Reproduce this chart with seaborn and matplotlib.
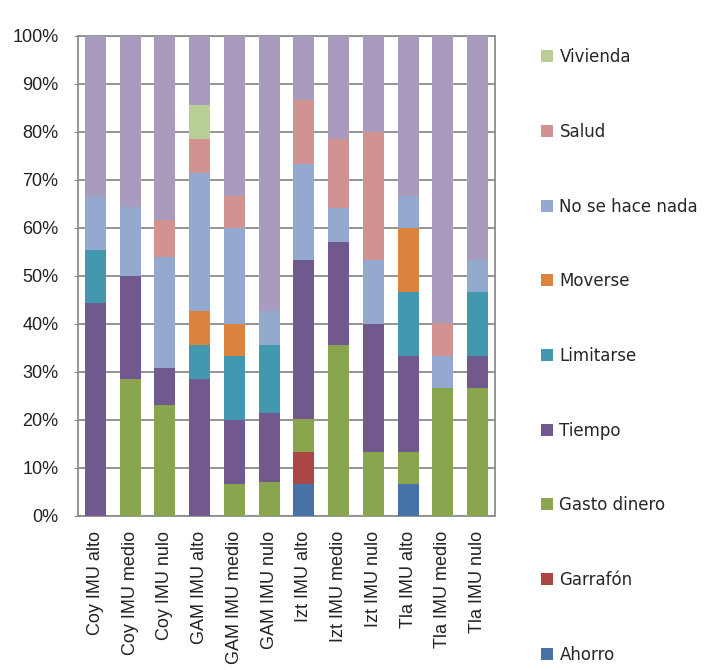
import matplotlib
matplotlib.use("Agg")
import matplotlib.pyplot as plt
from matplotlib.patches import Patch
import seaborn as sns
import pandas as pd
import numpy as np

categories = ["Coy IMU alto", "Coy IMU medio", "Coy IMU nulo",
              "GAM IMU alto", "GAM IMU medio", "GAM IMU nulo",
              "Izt IMU alto", "Izt IMU medio", "Izt IMU nulo",
              "Tla IMU alto", "Tla IMU medio", "Tla IMU nulo"]

# percentages per series (bottom to top)
ahorro       = [0, 0, 0, 0, 0, 0, 6.7, 0, 0, 6.7, 0, 0]
garrafon     = [0, 0, 0, 0, 0, 0, 6.7, 0, 0, 0, 0, 0]
gasto_dinero = [0, 28.6, 23.1, 0, 6.7, 7.1, 6.7, 35.7, 13.3, 6.7, 26.7, 26.7]
tiempo       = [44.4, 21.4, 7.7, 28.6, 13.3, 14.3, 33.3, 21.4, 26.7, 20.0, 0, 6.7]
limitarse    = [11.1, 0, 0, 7.1, 13.3, 14.3, 0, 0, 0, 13.3, 0, 13.3]
moverse      = [0, 0, 0, 7.1, 6.7, 0, 0, 0, 0, 13.3, 0, 0]
no_hace_nada = [11.1, 14.3, 23.1, 28.6, 20.0, 7.1, 20.0, 7.1, 13.3, 6.7, 6.7, 6.7]
salud        = [0, 0, 7.7, 7.1, 6.7, 0, 13.3, 14.3, 26.7, 0, 6.7, 0]
vivienda     = [0, 0, 0, 7.1, 0, 0, 0, 0, 0, 0, 0, 0]
otro         = [33.3, 35.7, 38.5, 14.3, 33.3, 57.1, 13.3, 21.4, 20.0, 33.3, 60.0, 46.7]

series_names = ["Ahorro", "Garrafón", "Gasto dinero", "Tiempo", "Limitarse",
                "Moverse", "No se hace nada", "Salud", "Vivienda", "Otro"]
series_vals = [ahorro, garrafon, gasto_dinero, tiempo, limitarse,
               moverse, no_hace_nada, salud, vivienda, otro]
colors = ["#4672A8", "#AA4643", "#89A54E", "#71588F", "#4198AF",
          "#DB843D", "#93A9CF", "#D19392", "#B9CD96", "#A99BBD"]

sns.set_style("white")
plt.rcParams["font.family"] = ["Liberation Sans", "DejaVu Sans"]

fig = plt.figure(figsize=(7.17, 6.70), dpi=100)
ax = fig.add_axes([0.1088, 0.2299, 0.5815, 0.7164])

bottom = np.zeros(len(categories))
for name, vals, col in zip(series_names, series_vals, colors):
    v = np.array(vals, dtype=float)
    df = pd.DataFrame({"cat": categories, "val": v / 100.0})
    sns.barplot(data=df, x="cat", y="val", order=categories, color=col,
                width=0.6, bottom=bottom / 100.0, ax=ax, errorbar=None,
                saturation=1, edgecolor="none", linewidth=0, zorder=3)
    bottom = bottom + v

ax.set_ylim(0, 1)
ax.set_xlim(-0.5, len(categories) - 0.5)
ax.set_yticks(np.arange(0, 1.01, 0.1))
ax.set_yticklabels([f"{int(round(t*100))}%" for t in np.arange(0, 1.01, 0.1)],
                   fontsize=13, color="#222222")
ax.set_xticks(range(len(categories)))
ax.set_xticklabels(categories, rotation=90, fontsize=13, color="#222222")
ax.set_xlabel("")
ax.set_ylabel("")
ax.yaxis.grid(True, color="#8c8c8c", linewidth=1.3, zorder=0)
ax.set_axisbelow(True)
for s in ax.spines.values():
    s.set_color("#8c8c8c")
    s.set_linewidth(1.3)
ax.tick_params(axis="x", length=0, pad=11)
ax.tick_params(axis="y", left=True, length=3, color="#8c8c8c", pad=11)

handles = [Patch(facecolor=c, edgecolor="none") for c in colors[:9]][::-1]
labels = series_names[:9][::-1]
fig.legend(handles, labels, loc="upper left", bbox_to_anchor=(0.745, 0.938),
           frameon=False, prop={"family": ["DejaVu Sans"], "size": 12},
           handlelength=0.72, handleheight=0.72,
           handletextpad=0.4, labelspacing=3.4, borderaxespad=0)

fig.savefig("out.png", dpi=100)
